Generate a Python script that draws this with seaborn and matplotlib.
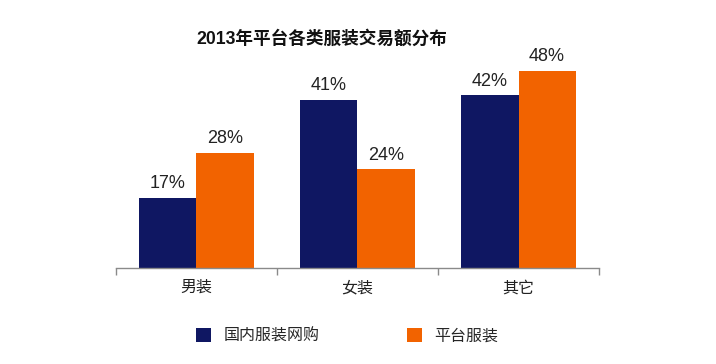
import pandas as pd
import matplotlib.pyplot as plt
import seaborn as sns
from matplotlib.patches import Patch

# data
categories = ["男装", "女装", "其它"]
series = ["国内服装网购", "平台服装"]
domestic = [17, 41, 42]
platform = [28, 24, 48]
colors = ["#0f1762", "#f26300"]

df = pd.DataFrame({
    "category": categories * 2,
    "series": [series[0]] * 3 + [series[1]] * 3,
    "share": domestic + platform,
})

sns.set_style("white")
plt.rcParams["font.family"] = ["Liberation Sans", "Noto Sans CJK SC", "DejaVu Sans"]

fig = plt.figure(figsize=(7.16, 3.64), dpi=100)
ax = fig.add_axes([0.162, 0.2646, 0.6746, 0.5632])

sns.barplot(
    data=df,
    x="category",
    y="share",
    hue="series",
    palette=colors,
    width=0.71,
    saturation=1,
    linewidth=0,
    legend=False,
    ax=ax
)

for c in ax.containers:
    ax.bar_label(c, fmt="%d%%", padding=4, fontsize=13, color="#222222")

ax.set_xlim(-0.5, 2.5)
ax.set_ylim(0, 50)
ax.set_xlabel("")
ax.set_ylabel("")
ax.set_yticks([])

# ticks at category boundaries
ax.set_xticks([-0.5, 0.5, 1.5, 2.5], minor=True)
ax.tick_params(axis="x", which="minor", bottom=True, length=5, width=1,
               color="#8a8a8a", direction="out")
ax.tick_params(axis="x", which="major", length=0, pad=9, labelsize=11.5, labelcolor="#222222")

for s in ["top", "right", "left"]:
    ax.spines[s].set_visible(False)
ax.spines["bottom"].set_color("#8a8a8a")
ax.spines["bottom"].set_linewidth(1)

fig.text(0.449, 0.893, "2013年平台各类服装交易额分布", ha="center", va="center",
         fontsize=12.7, fontweight="bold", color="#111111")

handles = [Patch(facecolor=colors[i], edgecolor="none", label=series[i]) for i in range(2)]
fig.legend(
    handles=handles,
    loc="center left",
    bbox_to_anchor=(0.274, 0.077),
    ncol=2,
    frameon=False,
    fontsize=11.5,
    handlelength=0.95,
    handleheight=0.95,
    handletextpad=0.75,
    columnspacing=5.5,
    borderaxespad=0,
    borderpad=0
)

plt.savefig("out.png", dpi=100)
